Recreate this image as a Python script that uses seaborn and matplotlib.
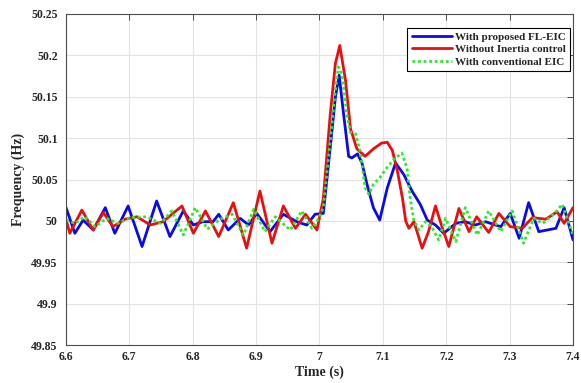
import numpy as np
import pandas as pd
import matplotlib
matplotlib.use("Agg")
import matplotlib.pyplot as plt
import seaborn as sns

# ---- data ----
t_blue = [6.600, 6.614, 6.627, 6.643, 6.662, 6.677, 6.698, 6.720, 6.743, 6.764,
          6.785, 6.801, 6.816, 6.832, 6.841, 6.856, 6.875, 6.888, 6.901, 6.922,
          6.943, 6.964, 6.980, 6.993, 7.006, 7.017, 7.025, 7.031, 7.038, 7.046,
          7.051, 7.060, 7.067, 7.075, 7.085, 7.095, 7.107, 7.120, 7.133, 7.146,
          7.159, 7.170, 7.183, 7.196, 7.215, 7.230, 7.246, 7.262, 7.286, 7.301,
          7.315, 7.330, 7.346, 7.373, 7.386, 7.400]
f_blue = [50.016, 49.985, 50.001, 49.989, 50.016, 49.985, 50.018, 49.969, 50.024, 49.981,
          50.012, 49.995, 49.999, 49.999, 50.008, 49.989, 50.003, 49.995, 50.009, 49.987,
          50.008, 49.999, 49.995, 50.008, 50.009, 50.089, 50.149, 50.176, 50.129, 50.078,
          50.076, 50.081, 50.070, 50.044, 50.016, 50.001, 50.040, 50.070, 50.056, 50.036,
          50.020, 50.001, 49.995, 49.985, 49.997, 49.999, 49.995, 49.999, 49.993, 50.009,
          49.979, 50.022, 49.987, 49.991, 50.016, 49.977]

t_red = [6.600, 6.606, 6.625, 6.643, 6.659, 6.674, 6.693, 6.712, 6.733, 6.753,
         6.783, 6.801, 6.820, 6.841, 6.864, 6.885, 6.906, 6.925, 6.943, 6.962,
         6.978, 6.996, 7.006, 7.017, 7.025, 7.032, 7.041, 7.049, 7.059, 7.072,
         7.085, 7.098, 7.107, 7.115, 7.123, 7.131, 7.136, 7.141, 7.149, 7.162,
         7.172, 7.183, 7.194, 7.204, 7.220, 7.236, 7.248, 7.267, 7.283, 7.301,
         7.320, 7.336, 7.357, 7.375, 7.386, 7.400]
f_red = [50.002, 49.985, 50.013, 49.989, 50.010, 49.993, 50.002, 50.005, 49.995, 49.999,
         50.018, 49.985, 50.012, 49.981, 50.022, 49.967, 50.036, 49.973, 50.018, 49.991,
         50.008, 49.989, 50.027, 50.129, 50.190, 50.212, 50.170, 50.111, 50.087, 50.078,
         50.087, 50.094, 50.095, 50.085, 50.060, 50.027, 50.000, 49.991, 49.999, 49.967,
         49.987, 50.018, 49.991, 49.969, 50.015, 49.987, 50.005, 49.986, 50.009, 49.993,
         49.991, 50.004, 50.002, 50.011, 49.997, 50.016]

t_green = [6.600, 6.614, 6.630, 6.646, 6.664, 6.682, 6.701, 6.727, 6.749, 6.767,
           6.785, 6.804, 6.823, 6.843, 6.862, 6.880, 6.896, 6.914, 6.930, 6.954,
           6.972, 6.988, 6.999, 7.006, 7.017, 7.025, 7.030, 7.036, 7.043, 7.049,
           7.057, 7.064, 7.072, 7.078, 7.085, 7.095, 7.104, 7.117, 7.130, 7.138,
           7.143, 7.149, 7.157, 7.167, 7.177, 7.188, 7.199, 7.215, 7.230, 7.249,
           7.267, 7.286, 7.304, 7.322, 7.338, 7.352, 7.370, 7.383, 7.400]
f_green = [50.001, 49.997, 50.005, 49.993, 50.003, 49.997, 50.004, 50.005, 49.997, 50.012,
           49.983, 50.016, 49.990, 50.002, 50.008, 49.983, 50.014, 49.987, 50.005, 49.989,
           50.012, 49.991, 50.003, 50.016, 50.097, 50.158, 50.186, 50.176, 50.129, 50.107,
           50.105, 50.085, 50.040, 50.032, 50.044, 50.052, 50.062, 50.074, 50.082, 50.064,
           50.028, 50.000, 49.989, 49.999, 49.993, 49.977, 50.003, 49.975, 50.016, 49.983,
           50.012, 49.987, 50.012, 49.973, 50.003, 49.997, 50.008, 50.020, 49.983]

series_names = ["With proposed FL-EIC", "Without Inertia control", "With conventional EIC"]
xtick_vals = [6.6, 6.7, 6.8, 6.9, 7.0, 7.1, 7.2, 7.3, 7.4]
xtick_labels = ["6.6", "6.7", "6.8", "6.9", "7", "7.1", "7.2", "7.3", "7.4"]
ytick_vals = [49.85, 49.9, 49.95, 50.0, 50.05, 50.1, 50.15, 50.2, 50.25]
ytick_labels = ["49.85", "49.9", "49.95", "50", "50.05", "50.1", "50.15", "50.2", "50.25"]

sns.set_style("white")
plt.rcParams["font.family"] = ["Liberation Serif", "DejaVu Serif"]
plt.rcParams["font.weight"] = "bold"
plt.rcParams["lines.solid_joinstyle"] = "round"
plt.rcParams["lines.solid_capstyle"] = "round"

fig = plt.figure(figsize=(5.81, 3.83), dpi=100)
ax = fig.add_axes([66 / 581, 38 / 383, 507 / 581, 331 / 383])

df_b = pd.DataFrame({"t": t_blue, "f": f_blue})
df_r = pd.DataFrame({"t": t_red, "f": f_red})
df_g = pd.DataFrame({"t": t_green, "f": f_green})

sns.lineplot(data=df_b, x="t", y="f", ax=ax, color="#0a0ae6", lw=2.0,
             label=series_names[0], sort=False, estimator=None)
sns.lineplot(data=df_r, x="t", y="f", ax=ax, color="#e8100f", lw=2.0,
             label=series_names[1], sort=False, estimator=None)
sns.lineplot(data=df_g, x="t", y="f", ax=ax, color="#2ee82e", lw=2.0,
             linestyle=(0, (1, 1)), label=series_names[2], sort=False, estimator=None)

ax.set_xlim(6.6, 7.4)
ax.set_ylim(49.85, 50.25)
ax.set_xticks(xtick_vals)
ax.set_xticklabels(xtick_labels)
ax.set_yticks(ytick_vals)
ax.set_yticklabels(ytick_labels)
ax.grid(True, color="#e3e3e3", lw=0.8)
ax.set_axisbelow(True)
for s in ax.spines.values():
    s.set_color("#4d4d4d")
    s.set_linewidth(0.8)
    s.set_visible(True)
ax.tick_params(direction="in", length=4, width=0.7, color="#4d4d4d",
               top=True, right=True, labelsize=8.5, labelcolor="#262626")
ax.tick_params(axis="x", pad=4)
ax.tick_params(axis="y", pad=6)
for lab in ax.get_xticklabels() + ax.get_yticklabels():
    lab.set_fontweight("bold")

ax.set_xlabel("Time (s)", fontsize=10, fontweight="bold", color="#262626", labelpad=2)
ax.set_ylabel("Frequency (Hz)", fontsize=10, fontweight="bold", color="#262626", labelpad=4)

leg = ax.legend(loc="upper right", bbox_to_anchor=(0.994, 0.958), frameon=True,
                fancybox=False, edgecolor="black", framealpha=1,
                prop={"weight": "bold", "size": 8}, handlelength=3.6,
                handletextpad=0.25, borderpad=0.4, labelspacing=0.22,
                borderaxespad=0.0)
leg.get_frame().set_linewidth(0.8)

fig.savefig("out.png", dpi=100)
